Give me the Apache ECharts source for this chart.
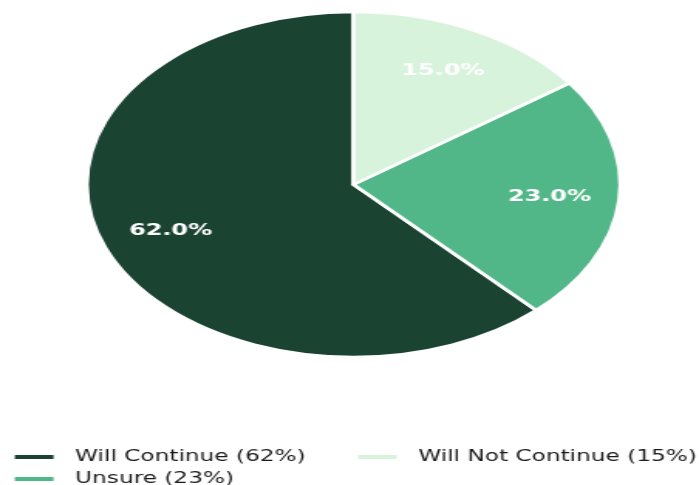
<!DOCTYPE html>
<html>
<head>
<meta charset="utf-8">
<script src="https://cdn.jsdelivr.net/npm/echarts@6/dist/echarts.min.js"></script>
<style>
html,body{margin:0;padding:0;background:#fff;overflow:hidden;}
#wrap{width:699px;height:485px;overflow:hidden;}
#chart{width:452px;height:485px;transform:scaleX(1.5465);transform-origin:0 0;}
</style>
</head>
<body>
<div id="wrap"><div id="chart"></div></div>
<script>
const categories = ['Will Continue', 'Unsure', 'Will Not Continue'];
const values = [62, 23, 15];
const colors = ['#1b4332', '#52b788', '#d8f3dc'];

const data = categories.map((c, i) => ({ name: c, value: values[i], itemStyle: { color: colors[i] } }));
const legendFmt = name => name + ' (' + values[categories.indexOf(name)] + '%)';
const legendText = { fontFamily: 'DejaVu Sans', fontSize: 15, color: '#1a1a1a', lineHeight: 15, padding: [0, 0, 0, 8] };

const chart = echarts.init(document.getElementById('chart'), null, { renderer: 'canvas' });
chart.setOption({
  animation: false,
  backgroundColor: '#fff',
  legend: [
    { data: [categories[0], categories[1]], orient: 'vertical', left: 7.6, top: 449.5, height: 40, padding: 0, icon: 'rect',
      itemWidth: 27, itemHeight: 6, itemGap: 7, formatter: legendFmt, textStyle: legendText, selectedMode: false },
    { data: [categories[2]], orient: 'vertical', left: 229.5, top: 449.5, height: 40, padding: 0, icon: 'rect',
      itemWidth: 27, itemHeight: 6, itemGap: 7, formatter: legendFmt, textStyle: legendText, selectedMode: false }
  ],
  series: [
    {
      type: 'pie', center: [228.6, 184.5], radius: [0, 172.5], startAngle: 90, clockwise: false,
      data: data, label: { show: false }, labelLine: { show: false },
      itemStyle: { borderColor: '#fff', borderWidth: 2.6 }, emphasis: { disabled: true }, silent: true
    },
    {
      type: 'pie', center: [228.6, 184.5], radius: [76, 172.5], startAngle: 90, clockwise: false,
      data: categories.map((c, i) => ({ name: c, value: values[i], itemStyle: { color: 'rgba(0,0,0,0)' } })),
      label: { show: true, position: 'inside', formatter: p => p.percent.toFixed(1) + '%',
        fontFamily: 'DejaVu Sans', fontWeight: 'bold', fontSize: 15.5, color: '#fff' },
      labelLine: { show: false }, itemStyle: { borderWidth: 0 }, emphasis: { disabled: true }, silent: true
    }
  ]
});
</script>
</body>
</html>
